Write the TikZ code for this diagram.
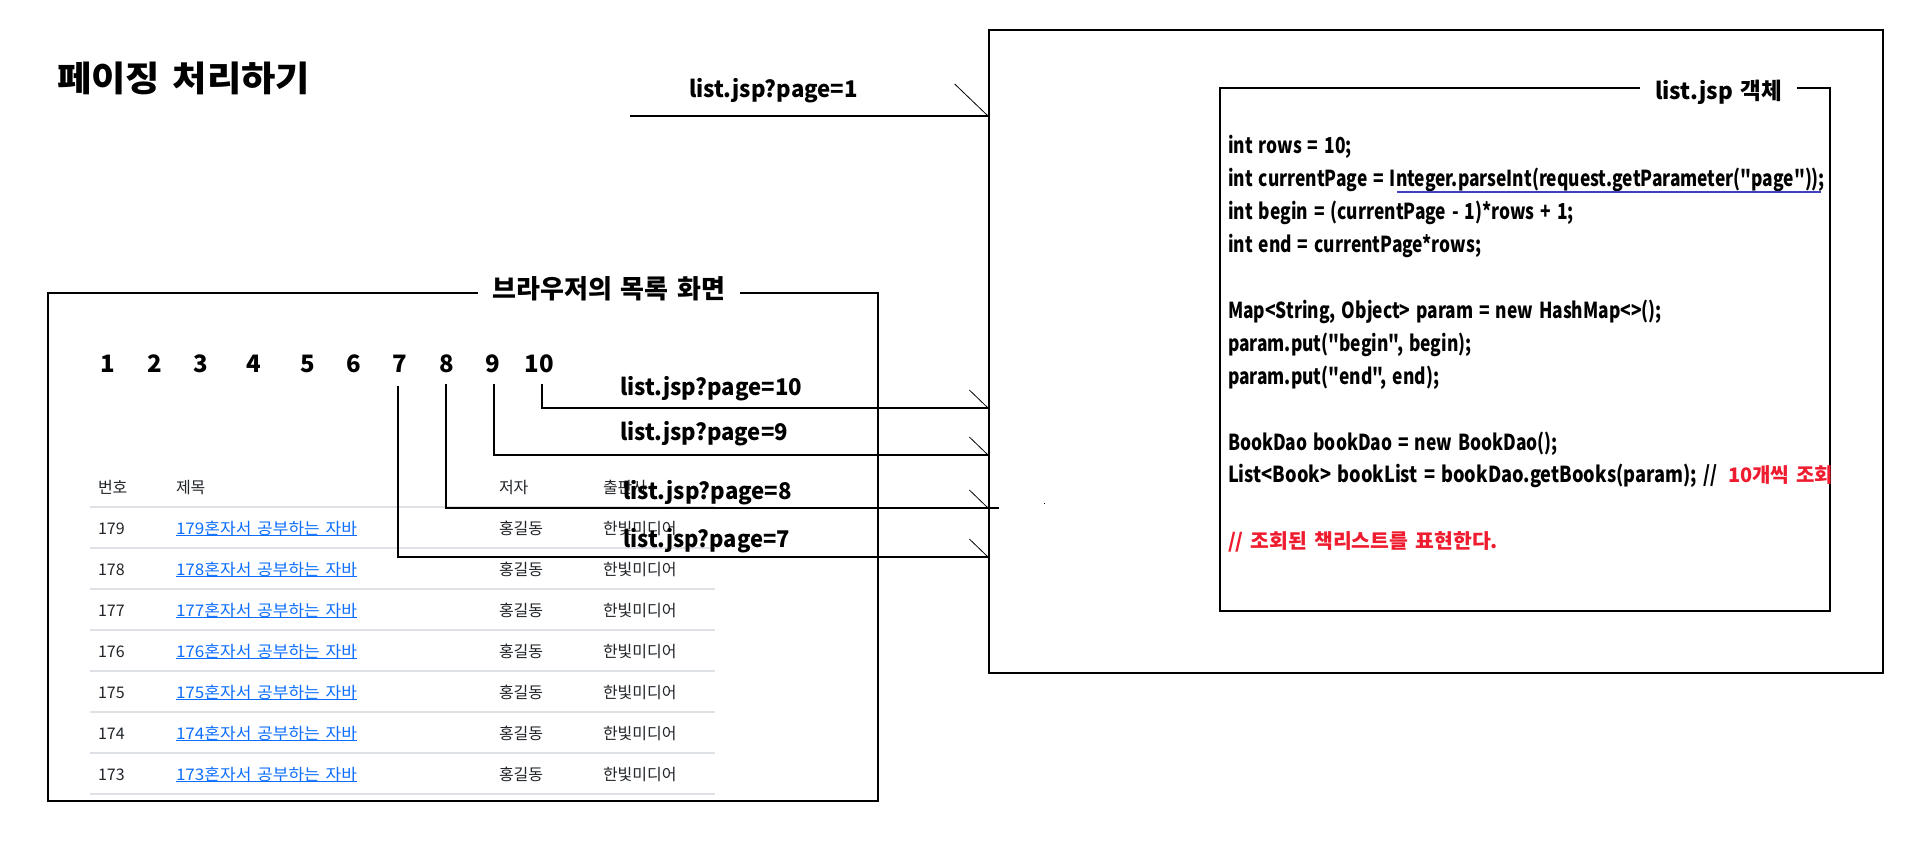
\documentclass[tikz,border=0pt]{standalone}
\usepackage{fontspec}
\setmainfont{Noto Sans CJK KR}[Ligatures=TeXOff]
\newfontfamily\codefam{Noto Sans CJK KR}[Ligatures=TeXOff, WordSpace=1.5]
\usepackage{graphicx}
\usetikzlibrary{arrows.meta}
\definecolor{codered}{RGB}{238,28,46}
\definecolor{ulblue}{RGB}{64,64,192}
\definecolor{linkblue}{RGB}{13,110,253}
\definecolor{tabtext}{RGB}{33,37,41}
\definecolor{tabline}{RGB}{222,226,230}
\newsavebox\codebox
\newlength\codew
\newcommand\codefnt{\codefam\fontsize{16.5}{20}\selectfont\bfseries}
\begin{document}
\sbox\codebox{\codefnt int currentPage = Integer.parseInt(request.getParameter("page"));}%
\setlength\codew{\wd\codebox}%
\pgfmathsetmacro\cf{447.75/\codew}%
\begin{tikzpicture}[x=0.75pt,y=-0.75pt,
  every node/.style={inner sep=0pt, outer sep=0pt},
  boxline/.style={line width=1.1pt},
  conn/.style={line width=1.1pt},
  barbS/.style={-{Straight Barb[left,length=14pt,width=27pt,line width=0.6pt]}},
  barbL/.style={-{Straight Barb[left,length=25pt,width=48pt,line width=0.6pt]}},
  lbl/.style={anchor=base west, font=\fontsize{17.25}{20}\selectfont\bfseries},
  boxtitle/.style={anchor=base, fill=white, inner xsep=11pt},
  pnum/.style={anchor=base, font=\fontsize{18}{20}\selectfont\bfseries},
  code/.style={anchor=base west, font=\codefnt},
  redcode/.style={anchor=base west, text=codered, font=\fontsize{15}{18}\selectfont\bfseries},
  tab/.style={anchor=base west, text=tabtext, font=\fontsize{12}{14}\selectfont},
  lnk/.style={anchor=base west, text=linkblue, font=\fontsize{12}{14}\selectfont},
  rowline/.style={draw=tabline, line width=0.9pt},
]
\useasboundingbox (0,0) rectangle (1908,846);
\fill[white] (0,0) rectangle (1908,846);

% title
\node[anchor=base west, font=\fontsize{26.25}{30}\selectfont\bfseries] (title) at (57,91)
  {\resizebox{189.75pt}{\height}{페이징 처리하기}};

% outer and inner boxes
\coordinate (outerNW) at (989,30);
\draw[boxline] (outerNW) rectangle (1883,673);
\draw[boxline] (1220,88) rectangle (1830,611);
\node[boxtitle, font=\fontsize{17.25}{20}\selectfont\bfseries] (objTitle) at (1718.5,99)
  {\resizebox{95.25pt}{\height}{list.jsp 객체}};

% code
\begin{scope}
\clip (1220,88) rectangle (1830,611);
\node[code] (c1) at (1228,153) {\scalebox{\cf}[1]{int rows = 10;}};
\node[code] (c2) at (1228,186) {\scalebox{\cf}[1]{int currentPage = Integer.parseInt(request.getParameter("page"));}};
\node[code] (c3) at (1228,219) {\scalebox{\cf}[1]{int begin = (currentPage - 1)*rows + 1;}};
\node[code] (c4) at (1228,252) {\scalebox{\cf}[1]{int end = currentPage*rows;}};
\node[code] (c5) at (1228,318) {\scalebox{\cf}[1]{Map<String, Object> param = new HashMap<>();}};
\node[code] (c6) at (1228,351) {\scalebox{\cf}[1]{param.put("begin", begin);}};
\node[code] (c7) at (1228,384) {\scalebox{\cf}[1]{param.put("end", end);}};
\node[code] (c8) at (1228,450) {\scalebox{\cf}[1]{BookDao bookDao = new BookDao();}};
\node[code] (c9) at (1228,482) {\resizebox{366.75pt}{\height}{List<Book> bookList = bookDao.getBooks(param); //}};
\node[redcode] (c9r) at (1728,482) {10개씩 조회};
\node[redcode] (c10) at (1228,548) {\resizebox{202.5pt}{\height}{// 조회된 책리스트를 표현한다.}};
\end{scope}
\draw[ulblue, line width=2.2pt] (1397,192) -- (1821,192);

% request page=1
\node[lbl] (l1) at (689,97) {\resizebox{126.75pt}{\height}{list.jsp?page=1}};
\coordinate (s1) at (630,116);
\draw[conn, barbL] (s1) -- (s1 -| outerNW);

% browser box
\draw[boxline] (48,293) rectangle (878,801);
\node[boxtitle, font=\fontsize{19.5}{22}\selectfont\bfseries] (brTitle) at (609,298)
  {\resizebox{174.75pt}{\height}{브라우저의 목록 화면}};

% page numbers
\foreach \lab/\xx in {1/108,2/155,3/201,4/254,5/308,6/354,7/400,8/447,9/493,10/539}
  \node[pnum] (n\lab) at (\xx,372) {\lab};

% table
\node[tab] (h1) at (98,493) {번호};
\node[tab] (h2) at (176,493) {제목};
\node[tab] (h3) at (499,493) {저자};
\node[tab] (h4) at (603,493) {출판사};
\draw[rowline] (90,507) -- (715,507);
\foreach \k in {0,...,6}{
  \pgfmathtruncatemacro\num{179-\k}
  \pgfmathsetmacro\yy{534+41*\k}
  \pgfmathsetmacro\ly{548+41*\k}
  \node[tab] (num\k) at (98,\yy) {\num};
  \node[lnk] (lk\k) at (176,\yy) {\resizebox{135.75pt}{\height}{\num 혼자서 공부하는 자바}};
  \draw[linkblue, line width=0.75pt] ([yshift=-1.3pt]lk\k.base west) -- ([yshift=-1.3pt]lk\k.base east);
  \node[tab] (au\k) at (499,\yy) {홍길동};
  \node[tab] (pu\k) at (603,\yy) {한빛미디어};
  \draw[rowline] (90,\ly) -- (715,\ly);
}

% page links
\coordinate (v10) at (542,384); \coordinate (y10) at (0,408);
\coordinate (v9) at (494,384);  \coordinate (y9) at (0,455);
\coordinate (v8) at (446,384);  \coordinate (y8) at (0,508);
\coordinate (v7) at (398,386);  \coordinate (y7) at (0,557);
\draw[conn, barbS] (v10) |- (y10 -| outerNW);
\draw[conn, barbS] (v9) |- (y9 -| outerNW);
\draw[conn, barbS] (v8) |- (y8 -| outerNW);
\draw[conn] (y8 -| outerNW) -- ++(10,0);
\draw[conn, barbS] (v7) |- (y7 -| outerNW);
\node[lbl] (l10) at (620,395) {\resizebox{136.5pt}{\height}{list.jsp?page=10}};
\node[lbl] (l9) at (620,440) {\resizebox{126pt}{\height}{list.jsp?page=9}};
\node[lbl] (l8) at (623,499) {\resizebox{126.75pt}{\height}{list.jsp?page=8}};
\node[lbl] (l7) at (623,547) {\resizebox{125.25pt}{\height}{list.jsp?page=7}};

% stray dot
\fill (1043.5,502.5) rectangle (1045,504);
\end{tikzpicture}
\end{document}
